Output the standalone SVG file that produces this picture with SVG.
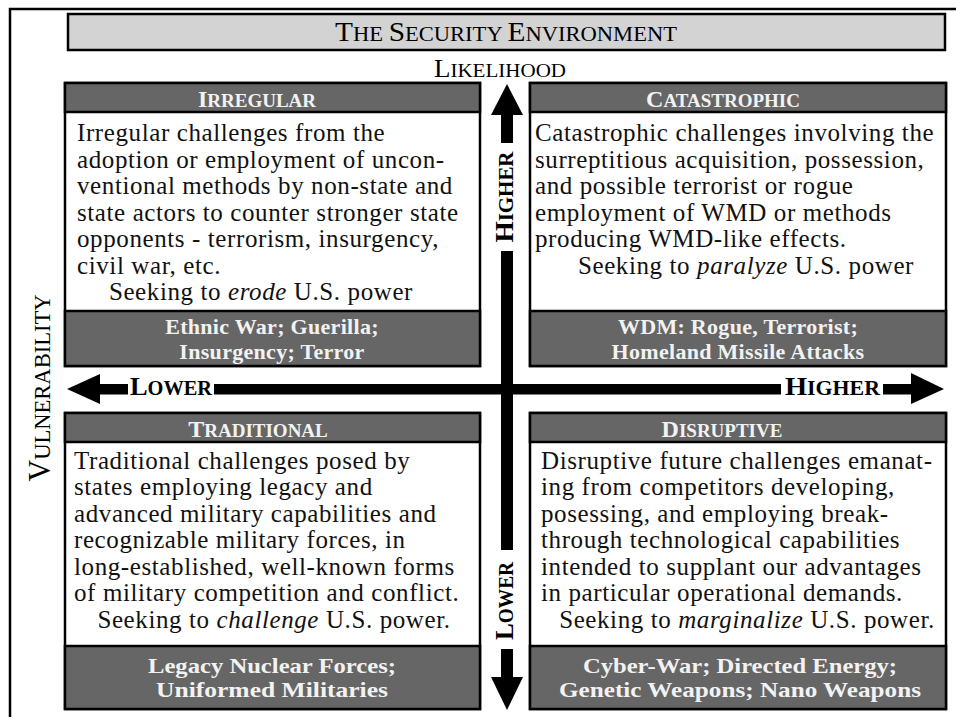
<svg xmlns="http://www.w3.org/2000/svg" width="956" height="717" viewBox="0 0 956 717">
<style>
text{font-family:'Liberation Serif','Times New Roman',serif}
.frame{fill:none;stroke:#000;stroke-width:2.5}
.box{fill:#fff;stroke:#000;stroke-width:2.5}
.dark{fill:#666;stroke:#000;stroke-width:2.5}
.title{fill:#d3d3d3;stroke:#000;stroke-width:2.5}
.htxt{font-weight:bold;font-size:19px;fill:#f2f2f2;text-anchor:middle}
.hc{font-size:24px}
.btxt{font-size:25px;fill:#111;letter-spacing:0.6px}
.ftxt{font-weight:bold;font-size:22px;fill:#f2f2f2;text-anchor:middle}
.fu{letter-spacing:0.3px}
.ax{fill:#000}
.alab{font-weight:bold;font-size:20px;fill:#000}
.ac{font-size:26px}
</style>
<rect width="956" height="717" fill="#fff"/>
<path class="frame" d="M10,720 V9 H960"/>
<g id="title">
<rect class="title" x="68" y="14" width="877" height="36"/>
<text x="506" y="41" text-anchor="middle" font-size="21.5" textLength="342" lengthAdjust="spacingAndGlyphs"><tspan font-size="28">T</tspan>HE <tspan font-size="28">S</tspan>ECURITY <tspan font-size="28">E</tspan>NVIRONMENT</text>
</g>
<g id="likelihood">
<text x="500" y="77" text-anchor="middle" font-size="19.5" textLength="132" lengthAdjust="spacingAndGlyphs"><tspan font-size="25">L</tspan>IKELIHOOD</text>
</g>
<g id="vulnerability">
<text transform="translate(50,388) rotate(-90)" text-anchor="middle" font-size="24" textLength="187" lengthAdjust="spacingAndGlyphs"><tspan font-size="32">V</tspan>ULNERABILITY</text>
</g>
<g id="connectors">
<polygon class="ax" points="507,84 523,115 491,115"/>
<rect class="ax" x="501" y="114" width="12" height="29"/>
<rect class="ax" x="501" y="251" width="12" height="299"/>
<rect class="ax" x="501" y="649" width="12" height="29"/>
<polygon class="ax" points="491,677 523,677 507,710"/>
<polygon class="ax" points="67,389 100,374 100,404"/>
<rect class="ax" x="99" y="384" width="29" height="10.5"/>
<rect class="ax" x="214" y="384" width="567" height="10.5"/>
<rect class="ax" x="883" y="384" width="30" height="10.5"/>
<polygon class="ax" points="911,373 911,404 944,389"/>
<text class="alab" transform="translate(513,197) rotate(-90)" text-anchor="middle" textLength="91" lengthAdjust="spacingAndGlyphs"><tspan class="ac">H</tspan>IGHER</text>
<text class="alab" transform="translate(513,601) rotate(-90)" text-anchor="middle" textLength="78" lengthAdjust="spacingAndGlyphs"><tspan class="ac">L</tspan>OWER</text>
<text class="alab" x="130" y="395" textLength="82" lengthAdjust="spacingAndGlyphs"><tspan class="ac">L</tspan>OWER</text>
<text class="alab" x="785" y="395" textLength="95" lengthAdjust="spacingAndGlyphs"><tspan class="ac">H</tspan>IGHER</text>
</g>
<g id="irregular">
<rect class="box" x="65" y="83" width="415" height="283"/>
<rect class="dark" x="65" y="83" width="415" height="29"/>
<rect class="dark" x="65" y="311" width="415" height="55"/>
<text class="htxt" x="257" y="106.5"><tspan class="hc">I</tspan>RREGULAR</text>
<g class="btxt">
<text x="77" y="141">Irregular challenges from the</text>
<text x="77" y="167.5">adoption or employment of uncon-</text>
<text x="77" y="194">ventional methods by non-state and</text>
<text x="77" y="220.5">state actors to counter stronger state</text>
<text x="77" y="247">opponents - terrorism, insurgency,</text>
<text x="77" y="273.5">civil war, etc.</text>
<text x="261" y="300" text-anchor="middle">Seeking to <tspan font-style="italic">erode</tspan> U.S. power</text>
</g>
<text class="ftxt fu" x="272" y="334">Ethnic War; Guerilla;</text>
<text class="ftxt fu" x="272" y="358.5">Insurgency; Terror</text>
</g>
<g id="catastrophic">
<rect class="box" x="530" y="83" width="416" height="283"/>
<rect class="dark" x="530" y="83" width="416" height="29"/>
<rect class="dark" x="530" y="311" width="416" height="55"/>
<text class="htxt" x="723" y="106.5"><tspan class="hc">C</tspan>ATASTROPHIC</text>
<g class="btxt">
<text x="535" y="141">Catastrophic challenges involving the</text>
<text x="535" y="167.5">surreptitious acquisition, possession,</text>
<text x="535" y="194">and possible terrorist or rogue</text>
<text x="535" y="220.5">employment of WMD or methods</text>
<text x="535" y="247">producing WMD-like effects.</text>
<text x="746" y="273.5" text-anchor="middle">Seeking to <tspan font-style="italic">paralyze</tspan> U.S. power</text>
</g>
<text class="ftxt fu" x="738" y="334">WDM: Rogue, Terrorist;</text>
<text class="ftxt fu" x="738" y="358.5">Homeland Missile Attacks</text>
</g>
<g id="traditional">
<rect class="box" x="65" y="413" width="415" height="296"/>
<rect class="dark" x="65" y="413" width="415" height="29"/>
<rect class="dark" x="65" y="646" width="415" height="63"/>
<text class="htxt" x="258" y="436.5"><tspan class="hc">T</tspan>RADITIONAL</text>
<g class="btxt">
<text x="74" y="468.5">Traditional challenges posed by</text>
<text x="74" y="495">states employing legacy and</text>
<text x="74" y="521.5">advanced military capabilities and</text>
<text x="74" y="548">recognizable military forces, in</text>
<text x="74" y="574.5">long-established, well-known forms</text>
<text x="74" y="601">of military competition and conflict.</text>
<text x="274" y="628" text-anchor="middle">Seeking to <tspan font-style="italic">challenge</tspan> U.S. power.</text>
</g>
<text class="ftxt" x="272" y="672.5" textLength="248" lengthAdjust="spacingAndGlyphs">Legacy Nuclear Forces;</text>
<text class="ftxt" x="272" y="697" textLength="232" lengthAdjust="spacingAndGlyphs">Uniformed Militaries</text>
</g>
<g id="disruptive">
<rect class="box" x="530" y="413" width="416" height="296"/>
<rect class="dark" x="530" y="413" width="416" height="29"/>
<rect class="dark" x="530" y="646" width="416" height="63"/>
<text class="htxt" x="722" y="436.5"><tspan class="hc">D</tspan>ISRUPTIVE</text>
<g class="btxt">
<text x="541" y="468.5">Disruptive future challenges emanat-</text>
<text x="541" y="495">ing from competitors developing,</text>
<text x="541" y="521.5">posessing, and employing break-</text>
<text x="541" y="548">through technological capabilities</text>
<text x="541" y="574.5">intended to supplant our advantages</text>
<text x="541" y="601">in particular operational demands.</text>
<text x="747" y="628" text-anchor="middle">Seeking to <tspan font-style="italic">marginalize</tspan> U.S. power.</text>
</g>
<text class="ftxt" x="740" y="672.5" textLength="314" lengthAdjust="spacingAndGlyphs">Cyber-War; Directed Energy;</text>
<text class="ftxt" x="740" y="697" textLength="362" lengthAdjust="spacingAndGlyphs">Genetic Weapons; Nano Weapons</text>
</g>
</svg>
